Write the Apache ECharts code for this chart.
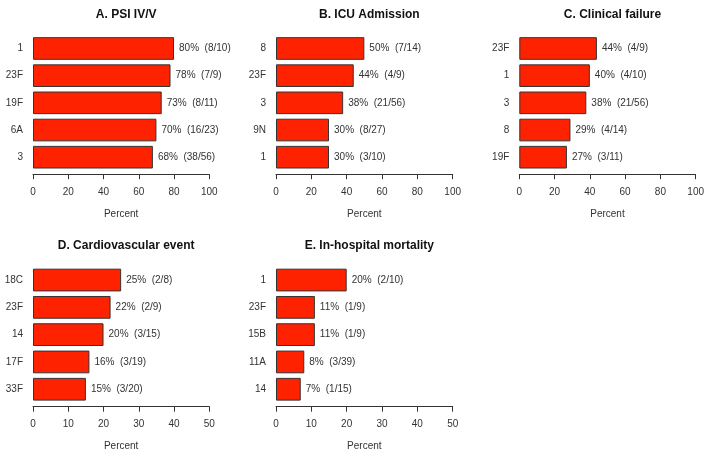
<!DOCTYPE html>
<html>
<head>
<meta charset="utf-8">
<script src="https://cdn.jsdelivr.net/npm/echarts@6/dist/echarts.min.js"></script>
<style>
html,body{margin:0;padding:0;background:#fff;}
#chart{width:707px;height:456px;}
</style>
</head>
<body>
<div id="chart"></div>
<script>
// ---- data ----
var titles = ["A. PSI IV/V", "B. ICU Admission", "C. Clinical failure", "D. Cardiovascular event", "E. In-hospital mortality"];

var catsA = ["1", "23F", "19F", "6A", "3"];
var valsA = [80, 78, 73, 70, 68];
var cntA  = ["8/10", "7/9", "8/11", "16/23", "38/56"];

var catsB = ["8", "23F", "3", "9N", "1"];
var valsB = [50, 44, 38, 30, 30];
var cntB  = ["7/14", "4/9", "21/56", "8/27", "3/10"];

var catsC = ["23F", "1", "3", "8", "19F"];
var valsC = [44, 40, 38, 29, 27];
var cntC  = ["4/9", "4/10", "21/56", "4/14", "3/11"];

var catsD = ["18C", "23F", "14", "17F", "33F"];
var valsD = [25, 22, 20, 16, 15];
var cntD  = ["2/8", "2/9", "3/15", "3/19", "3/20"];

var catsE = ["1", "23F", "15B", "11A", "14"];
var valsE = [20, 11, 11, 8, 7];
var cntE  = ["2/10", "1/9", "1/9", "3/39", "1/15"];

var axisMaxTop = 100, axisIntTop = 20;
var axisMaxBot = 50, axisIntBot = 10;
var axisName = "Percent";

// ---- layout ----
var panels = [
  {cats: catsA, vals: valsA, cnt: cntA, left: 33,  width: 176.3, top: 34.9,  height: 135.9, max: axisMaxTop, interval: axisIntTop, offset: 3.4},
  {cats: catsB, vals: valsB, cnt: cntB, left: 276, width: 176.7, top: 34.9,  height: 135.9, max: axisMaxTop, interval: axisIntTop, offset: 3.4},
  {cats: catsC, vals: valsC, cnt: cntC, left: 519.3, width: 176.4, top: 34.9, height: 135.9, max: axisMaxTop, interval: axisIntTop, offset: 3.4},
  {cats: catsD, vals: valsD, cnt: cntD, left: 33,  width: 176.3, top: 266.4, height: 136.5, max: axisMaxBot, interval: axisIntBot, offset: 3.8},
  {cats: catsE, vals: valsE, cnt: cntE, left: 276, width: 176.7, top: 266.4, height: 136.5, max: axisMaxBot, interval: axisIntBot, offset: 3.8}
];
var titleY = [9.6, 9.6, 9.6, 240.3, 240.3];

var FONT = "'Liberation Sans', Arial, Helvetica, sans-serif";
var TXT = "#333";

var grid = [], xAxis = [], yAxis = [], series = [], title = [];
panels.forEach(function (p, i) {
  grid.push({left: p.left, top: p.top, width: p.width, height: p.height, containLabel: false});
  xAxis.push({
    type: 'value', gridIndex: i, min: 0, max: p.max, interval: p.interval,
    offset: p.offset,
    name: axisName, nameLocation: 'middle', nameGap: 35,
    nameTextStyle: {fontFamily: FONT, fontSize: 10, color: TXT},
    axisLine: {show: true, lineStyle: {color: '#333', width: 1}},
    axisTick: {show: true, length: 5, lineStyle: {color: '#333', width: 1}},
    axisLabel: {margin: 13, fontFamily: FONT, fontSize: 10, color: TXT},
    splitLine: {show: false}
  });
  yAxis.push({
    type: 'category', gridIndex: i, data: p.cats, inverse: true,
    axisLine: {show: false}, axisTick: {show: false},
    axisLabel: {margin: 10, fontFamily: FONT, fontSize: 10, color: TXT},
    splitLine: {show: false}
  });
  series.push({
    type: 'bar', xAxisIndex: i, yAxisIndex: i,
    data: p.vals,
    barCategoryGap: '16.7%',
    itemStyle: {color: '#ff2200', borderColor: '#333', borderWidth: 1},
    label: {
      show: true, position: 'right', distance: 5,
      fontFamily: FONT, fontSize: 10, color: TXT,
      formatter: (function (cnt) {
        return function (prm) { return prm.value + '%  (' + cnt[prm.dataIndex] + ')'; };
      })(p.cnt)
    },
    animation: false
  });
  title.push({
    text: titles[i],
    left: p.left + p.width / 2, top: titleY[i],
    textAlign: 'center', textVerticalAlign: 'middle',
    textStyle: {fontFamily: FONT, fontSize: 12, fontWeight: 'bold', color: '#111'}
  });
});

var chart = echarts.init(document.getElementById('chart'), null, {renderer: 'canvas'});
chart.setOption({
  animation: false,
  backgroundColor: '#fff',
  title: title,
  grid: grid,
  xAxis: xAxis,
  yAxis: yAxis,
  series: series
});
</script>
</body>
</html>
